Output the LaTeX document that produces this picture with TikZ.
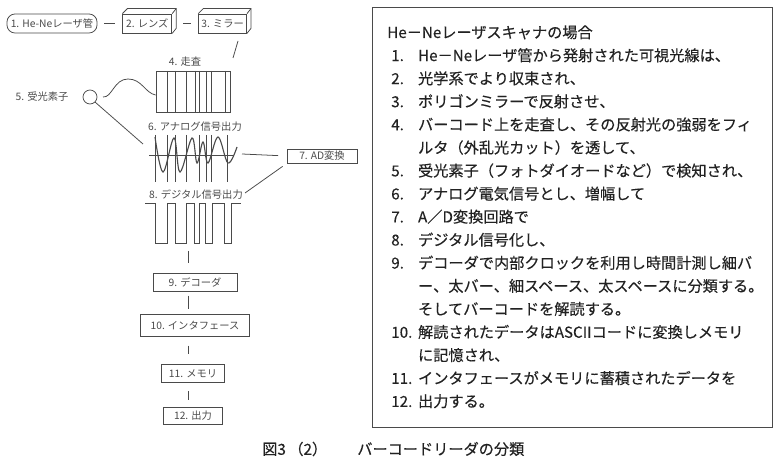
\documentclass[tikz,border=0pt]{standalone}
\usepackage{xcolor}
\usepackage{fontspec}
\setmainfont{Noto Sans CJK JP}
\newfontfamily\panelfont[FakeBold=0.3]{Noto Sans CJK JP}
\usetikzlibrary{positioning,calc}
\definecolor{ink}{HTML}{222222}
\definecolor{wirefg}{HTML}{4A4A4A}
\tikzset{
    smalltext/.style={
        font=\fontsize{7.3}{9}\selectfont, text=wirefg, inner sep=0pt
    },
    flowbox/.style={
        draw=wirefg, line width=0.55pt, smalltext, inner sep=0pt,
        minimum height=0.45cm, align=center
    },
    wire/.style={draw=wirefg, line width=0.55pt},
    panelbox/.style={
        draw=wirefg, line width=0.6pt,
        minimum width=10cm, minimum height=10.5cm
    },
    paneltext/.style={
        font=\panelfont\fontsize{10.8}{12}\selectfont, text=ink, inner sep=0pt, anchor=base west
    },
}
\begin{document}
\begin{tikzpicture}[x=0.025cm, y=-0.025cm]
    \useasboundingbox (0,0) rectangle (783,464);
    \node[flowbox, rounded corners=0.2cm, minimum width=2.25cm, minimum height=0.475cm] (laser) at (52,23.5) {1. He-Neレーザ管};
    \node[flowbox, right=0.625cm of laser, minimum width=1.225cm, minimum height=0.475cm] (lens) {2. レンズ};
    \node[flowbox, right=0.65cm of lens, minimum width=1.2cm, minimum height=0.475cm] (mirror) {3. ミラー};
    \node[wire, minimum width=1.85cm, minimum height=1.025cm] (scan) at (193,91.5) {};
    \node[smalltext, above=0.1cm of scan, xshift=-0.2cm] (scanlabel) {4. 走査};
    \node[wire, circle, minimum size=0.35cm, inner sep=0pt] (sensor) at (90,97) {};
    \node[smalltext, left=0.35cm of sensor] (sensorlabel) {5. 受光素子};
    \node[smalltext] (analoglabel) at (195,127) {6. アナログ信号出力};
    \node[flowbox, minimum width=1.75cm, minimum height=0.35cm] (adc) at (322,156) {7. AD変換};
    \node[smalltext] (digitallabel) at (196,195) {8. デジタル信号出力};
    \node[flowbox, minimum width=2.1cm] (decoder) at (195,282) {9. デコーダ};
    \node[flowbox, below=0.575cm of decoder, minimum width=2.725cm, minimum height=0.55cm] (iface) {10. インタフェース};
    \node[flowbox, below=0.675cm of iface, xshift=-0.05cm, minimum width=1.575cm] (memory) {11. メモリ};
    \node[flowbox, below=0.6cm of memory, minimum width=1.475cm, minimum height=0.425cm] (output) {12. 出力};
    \node[panelbox] (panel) at (572,217) {};
    \node[paneltext] (panelhead) at (387,38) {He－Neレーザスキャナの場合};
    \foreach \lineno/\linetext [count=\i] in {
        1./He－Neレーザ管から発射された可視光線は、,
        2./光学系でより収束され、,
        3./ポリゴンミラーで反射させ、,
        4./バーコード上を走査し、その反射光の強弱をフィ,
        /ルタ（外乱光カット）を透して、,
        5./受光素子（フォトダイオードなど）で検知され、,
        6./アナログ電気信号とし、増幅して,
        7./A／D変換回路で,
        8./デジタル信号化し、,
        9./デコーダで内部クロックを利用し時間計測し細バ,
        /ー、太バー、細スペース、太スペースに分類する。,
        /そしてバーコードを解読する。,
        10./解読されたデータはASCIIコードに変換しメモリ,
        /に記憶され、,
        11./インタフェースがメモリに蓄積されたデータを,
        12./出力する。}
        \node[paneltext] (line\i) at (391,38+23.06*\i) {\makebox[0.67cm][l]{\lineno}\linetext};
    \node[paneltext, anchor=west] (figno) at (262,449) {図3\,（2）};
    \node[paneltext, anchor=west] (figtitle) at (357,449) {バーコードリーダの分類};
    \foreach \b in {lens,mirror} {
        \draw[wire] (\b.north west) -- ++(5,-5) -- ($(\b.north east)+(4,-5)$) -- ($(\b.south east)+(4,-5)$) -- (\b.south east);
        \draw[wire] (\b.north east) -- ++(4,-5);
    }
    \foreach \x in {167,175,186,195,199,206,211,225}
        \draw[wire] (\x,71) -- (\x,112);
    \foreach \x in {155,167,175,186,199,206,211,227}
        \draw[wire, line width=0.4pt] (\x,135) -- (\x,182);
    \draw[wire] (149,155) -- (233,155);
    \draw[wire, line width=0.8pt] plot[smooth, tension=0.6] coordinates {(155,137) (163,172) (174,138) (180,172) (192,138) (197,163) (203,142) (208,163) (218,137) (228,163) (237,147)};
    \draw[wire] (145,203) -- (155,203) -- (155,243) -- (167,243) -- (167,203) -- (175,203) -- (175,243) -- (186,243) -- (186,203) -- (194,203) -- (194,243) -- (199,243) -- (199,203) -- (205,203) -- (205,243) -- (212,243) -- (212,203) -- (224,203) -- (224,243) -- (231,243) -- (231,203) -- (241,203);
    \coordinate (mirrorout) at (238,41);
    \coordinate (scanin) at (233,58);
    \coordinate (sensorout) at (103,97);
    \coordinate (wavein) at (143,144);
    \coordinate (waveout) at (242,154);
    \coordinate (digitalin) at (245,193);
    \coordinate (trunk) at (188,251);
    \draw[wire, shorten >=5, shorten <=5] (laser) -- (lens);
    \draw[wire, shorten >=5, shorten <=8] (lens) -- (mirror);
    \draw[wire] (mirrorout) -- (scanin);
    \draw[wire] (sensorout) .. controls (112,98) and (114,79) .. (128,79) .. controls (142,79) and (145,93) .. ($(scan.west)+(0,3.5)$);
    \draw[wire] (sensor.south east) -- (wavein);
    \draw[wire, shorten <=6] (adc.west) -- (waveout);
    \draw[wire] ($(adc.south west)+(-4,3)$) -- (digitalin);
    \draw[wire, shorten >=7] (trunk) -- (trunk |- decoder.north);
    \draw[wire, shorten >=4, shorten <=3] (trunk |- decoder.south) -- (trunk |- iface.north);
    \draw[wire, shorten >=7, shorten <=6] (trunk |- iface.south) -- (trunk |- memory.north);
    \draw[wire, shorten >=5, shorten <=6] (trunk |- memory.south) -- (trunk |- output.north);
\end{tikzpicture}
\end{document}
